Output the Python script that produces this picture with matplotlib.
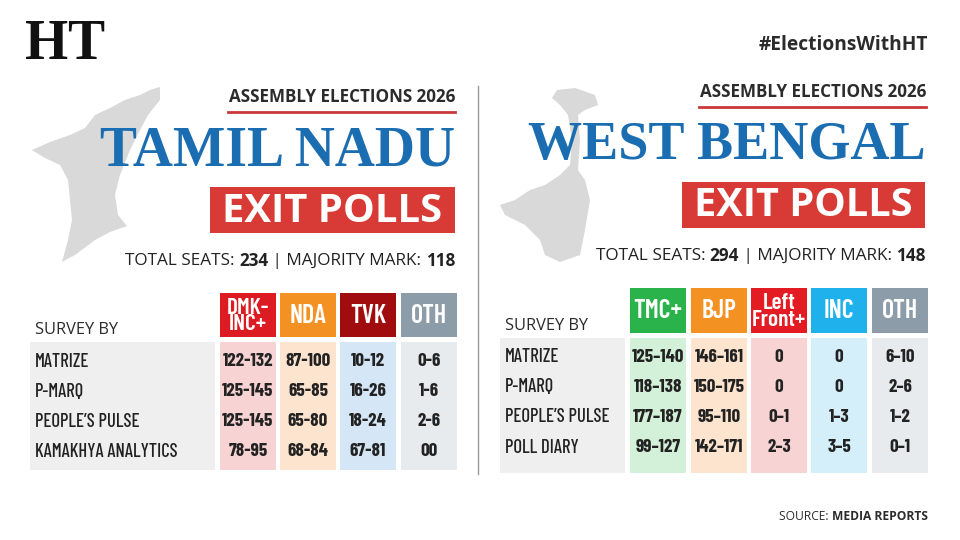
import matplotlib
matplotlib.use("Agg")
import matplotlib.pyplot as plt
from matplotlib.patches import Rectangle, Polygon

# ---------------- data ----------------
tn_parties = ["DMK-\nINC+", "NDA", "TVK", "OTH"]
tn_surveys = ["MATRIZE", "P-MARQ", "PEOPLE\u2019S PULSE", "KAMAKHYA ANALYTICS"]
tn_dmk = ["122-132", "125-145", "125-145", "78-95"]
tn_nda = ["87-100", "65-85", "65-80", "68-84"]
tn_tvk = ["10-12", "16-26", "18-24", "67-81"]
tn_oth = ["0-6", "1-6", "2-6", "00"]

wb_parties = ["TMC+", "BJP", "Left\nFront+", "INC", "OTH"]
wb_surveys = ["MATRIZE", "P-MARQ", "PEOPLE\u2019S PULSE", "POLL DIARY"]
wb_tmc = ["125\u2013140", "118\u2013138", "177\u2013187", "99\u2013127"]
wb_bjp = ["146\u2013161", "150\u2013175", "95\u2013110", "142\u2013171"]
wb_left = ["0", "0", "0\u20131", "2\u20133"]
wb_inc = ["0", "0", "1\u20133", "3\u20135"]
wb_oth = ["6\u201310", "2\u20136", "1\u20132", "0\u20131"]

tn_total, tn_majority = "234", "118"
wb_total, wb_majority = "294", "148"

# ---------------- styling ----------------
SANS = ["Open Sans", "DejaVu Sans"]
NARROW = ["Barlow Condensed", "Roboto", "DejaVu Sans"]
SERIF = ["Liberation Serif", "DejaVu Serif"]
BLUE = "#1b6db2"
RED = "#d83b36"
DARK = "#2b2b2b"

W, H = 960, 540
fig = plt.figure(figsize=(9.6, 5.4), dpi=100)
ax = fig.add_axes([0, 0, 1, 1])
ax.set_xlim(0, W)
ax.set_ylim(H, 0)
ax.axis("off")
renderer = fig.canvas.get_renderer()


def twidth(t):
    return t.get_window_extent(renderer=renderer).width


def size_for(s, width, **kw):
    t = ax.text(0, 0, s, fontsize=20, **kw)
    w = twidth(t)
    t.remove()
    return 20 * width / w


def fit(x, y, s, width, ha="right", **kw):
    t = ax.text(x, y, s, ha=ha, fontsize=size_for(s, width, **kw), **kw)
    return t


def rich_right(xr, y, parts, width, color, family):
    size = 10
    tmp = [ax.text(0, 0, s, fontsize=size, fontweight=w, family=family) for s, w in parts]
    tot = sum(twidth(t) for t in tmp)
    for t in tmp:
        t.remove()
    size = size * width / tot
    x = xr
    for s, w in reversed(parts):
        t = ax.text(x, y, s, ha="right", va="center", fontsize=size,
                    fontweight=w, family=family, color=color)
        x -= twidth(t)


# maps (decorative silhouettes)
tn_shape = [(160, 87), (150, 90), (140, 95), (125, 100), (110, 108), (95, 115), (85, 128),
            (70, 135), (50, 142), (32, 150), (45, 158), (60, 165), (68, 180), (70, 200),
            (72, 220), (68, 240), (62, 262), (75, 255), (95, 240), (110, 232), (127, 226),
            (118, 215), (115, 195), (120, 175), (130, 150), (140, 130), (148, 115), (160, 100)]
wb_shape = [(557, 90), (575, 88), (595, 95), (598, 105), (585, 110), (578, 115), (580, 140),
            (578, 170), (585, 180), (590, 200), (585, 230), (580, 255), (560, 262), (545, 255),
            (540, 240), (525, 225), (505, 215), (500, 205), (515, 200), (530, 190), (545, 185),
            (560, 175), (570, 165), (572, 140), (568, 115), (560, 105), (552, 98)]
ax.add_patch(Polygon(tn_shape, closed=True, fc="#d9d9d9", ec="none", zorder=0))
ax.add_patch(Polygon(wb_shape, closed=True, fc="#d9d9d9", ec="none", zorder=0))

# logo + hashtag
fit(25, 45, "HT", 80, ha="left", va="center", fontweight="bold",
    family=SERIF, color="#111111")
fit(928, 45, "#ElectionsWithHT", 169, va="center", fontweight="bold",
    family=SANS, color=DARK)

# divider
ax.plot([478, 478], [86, 474], color="#9a9a9a", lw=1)

# source
rich_right(928, 516, [("SOURCE: ", "normal"), ("MEDIA REPORTS", "bold")], 148, DARK, SANS)

LABEL_SIZE = size_for("PEOPLE\u2019S PULSE", 105, family=NARROW, fontweight=500)
VALUE_SIZE = size_for("125-145", 51, family=NARROW, fontweight=700)
HEAD1_SIZE = size_for("NDA", 37, family=NARROW, fontweight=600)
HEAD2_SIZE = size_for("Front+", 54, family=NARROW, fontweight=600)
SURVEY_SIZE = size_for("SURVEY BY", 83, family=SANS)


def panel(xr, y_assembly, title, title_left, box, total, majority, seats_width,
          parties, head_colors, body_colors, cols_x, head_y, body_y, rows_y,
          label_x0, surveys, columns):
    fit(xr, y_assembly, "ASSEMBLY ELECTIONS 2026", 227, va="center",
        fontweight="bold", family=SANS, color=DARK)
    ax.plot([xr - 227, xr], [y_assembly + 15, y_assembly + 15], color="#c9373a", lw=2)
    fit(xr, y_assembly + 54, title, xr - title_left, va="center",
        fontweight="bold", family=SERIF, color=BLUE)
    bx0, by0, bx1, by1 = box
    ax.add_patch(Rectangle((bx0, by0), bx1 - bx0, by1 - by0, fc=RED, ec="none"))
    fit((bx0 + bx1) / 2, (by0 + by1) / 2 + 1, "EXIT POLLS", (bx1 - bx0) * 0.9,
        ha="center", va="center", fontweight="bold", family=SANS, color="white")
    rich_right(xr, y_assembly + 164, [("TOTAL SEATS: ", "normal"), (total, "bold"),
                                      (" | MAJORITY MARK: ", "normal"), (majority, "bold")],
               seats_width, "#222222", SANS)
    cw = 56
    hy0, hy1 = head_y
    by0, by1 = body_y
    ax.add_patch(Rectangle((label_x0, by0), cols_x[0] - 5 - label_x0, by1 - by0,
                           fc="#efefef", ec="none"))
    ax.text(label_x0 + 5, hy1 - 7, "SURVEY BY", ha="left", va="center",
            fontsize=SURVEY_SIZE, family=SANS, color=DARK)
    for x0, p, hc, bc, vals in zip(cols_x, parties, head_colors, body_colors, columns):
        ax.add_patch(Rectangle((x0, hy0), cw, hy1 - hy0, fc=hc, ec="none"))
        ax.add_patch(Rectangle((x0, by0), cw, by1 - by0, fc=bc, ec="none"))
        two = "\n" in p
        ax.text(x0 + cw / 2, (hy0 + hy1) / 2 + 1, p, ha="center", va="center",
                fontsize=HEAD2_SIZE if two else HEAD1_SIZE, fontweight=600,
                family=NARROW, color="white", linespacing=0.8)
        for y, v in zip(rows_y, vals):
            ax.text(x0 + cw / 2, y, v, ha="center", va="center", fontsize=VALUE_SIZE,
                    fontweight=700, family=NARROW, color="#222222")
    for y, s in zip(rows_y, surveys):
        ax.text(label_x0 + 5, y, s, ha="left", va="center", fontsize=LABEL_SIZE,
                fontweight=500, family=NARROW, color="#222222")


panel(455, 97, "TAMIL NADU", 100, (210, 187, 455, 233), tn_total, tn_majority, 330,
      tn_parties,
      ["#dc1c22", "#f39222", "#a10d0f", "#8c9ca8"],
      ["#f8d3d3", "#fde4cf", "#d5e6f7", "#e8ebed"],
      [220, 280, 340, 401], (293, 337), (342, 470), [362, 392, 422, 452],
      30, tn_surveys, [tn_dmk, tn_nda, tn_tvk, tn_oth])

panel(926, 92, "WEST BENGAL", 530, (682, 182, 925, 228), wb_total, wb_majority, 332,
      wb_parties,
      ["#2bb34b", "#f39222", "#e31c23", "#1eb1ec", "#8c9ca8"],
      ["#d3f0d9", "#fde4cf", "#f8d3d3", "#d4eefa", "#e8ebed"],
      [630, 691, 751, 811, 872], (288, 333), (338, 473), [357, 387, 417, 448],
      500, wb_surveys, [wb_tmc, wb_bjp, wb_left, wb_inc, wb_oth])

fig.savefig("out.png", dpi=100, facecolor="white")
